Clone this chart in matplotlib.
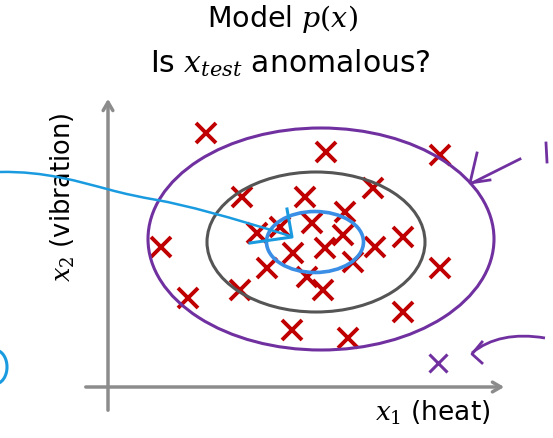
import numpy as np
import matplotlib.pyplot as plt
from matplotlib.patches import Ellipse, PathPatch
from matplotlib.path import Path

plt.rcParams['mathtext.fontset'] = 'dejavuserif'

# Normal examples (screen-like coordinates, y grows downward)
x1_normal = [206, 326, 440, 242, 305, 373, 345, 312, 257, 280, 343, 403, 161,
             293, 325, 375, 353, 267, 307, 323, 240, 440, 188, 403, 292, 348]
x2_normal = [133, 152, 155, 197, 197, 188, 212, 223, 233, 227, 235, 237, 247,
             253, 248, 247, 262, 268, 277, 290, 290, 268, 298, 312, 330, 338]

# The test example outside the outer contour
x1_test = [438]
x2_test = [363]

red = '#c00000'
purple = '#7030a0'
blue = '#1a9be0'
grey_axis = '#8c8c8c'

fig = plt.figure(figsize=(5.53, 4.38), dpi=100)
ax = fig.add_axes([0, 0, 1, 1])
ax.set_xlim(0, 553)
ax.set_ylim(438, 0)
ax.axis('off')

# Axes arrows
ax.annotate('', xy=(108, 96), xytext=(108, 413),
            arrowprops=dict(arrowstyle='->,head_length=0.6,head_width=0.35', color=grey_axis, lw=2.5))
ax.annotate('', xy=(507, 387), xytext=(83, 387),
            arrowprops=dict(arrowstyle='->,head_length=0.6,head_width=0.35', color=grey_axis, lw=2.5))

# Crosses
ax.plot(x1_normal, x2_normal, linestyle='none', marker='x', markersize=14,
        markeredgewidth=2.8, color=red, zorder=2)
ax.plot(x1_test, x2_test, linestyle='none', marker='x', markersize=13,
        markeredgewidth=2.2, color=purple, zorder=2)

# Density contours
ax.add_patch(Ellipse((321, 239), 346, 222, fill=False, ec=purple, lw=2.2, zorder=3))
ax.add_patch(Ellipse((316, 242), 218, 140, fill=False, ec='#555555', lw=2.2, zorder=3))
ax.add_patch(Ellipse((315, 242), 97, 61, fill=False, ec='#3a8ee6', lw=2.6, zorder=3))

# Blue pointer (smooth curve) with a hand-drawn head
pointer = Path([(0, 172), (45, 171), (80, 182), (107, 189),
                (125, 194), (140, 197), (157, 200),
                (185, 205), (230, 217), (290, 236)],
               [Path.MOVETO] + [Path.CURVE4] * 9)
ax.add_patch(PathPatch(pointer, fill=False, ec=blue, lw=1.8, zorder=4))
ax.plot([287, 292, 250], [209, 237, 243], color=blue, lw=2.2, zorder=4)
t = np.linspace(-np.pi / 2, np.pi / 2, 50)
ax.plot(-5 + 12 * np.cos(t), 367 + 17 * np.sin(t), color=blue, lw=2.2)

# Purple hand-drawn arrows
ax.plot([520, 472], [159, 183], color=purple, lw=2)
ax.plot([477, 470, 490], [153, 183, 180], color=purple, lw=2)
ax.plot([546, 547], [143, 162], color=purple, lw=2)
bottom = Path([(545, 338), (515, 333), (490, 338), (472, 353)],
              [Path.MOVETO, Path.CURVE4, Path.CURVE4, Path.CURVE4])
ax.add_patch(PathPatch(bottom, fill=False, ec=purple, lw=2))
ax.plot([482, 472, 482], [342, 354, 363], color=purple, lw=2)

# Text
ax.text(282, 27, r'Model $p(x)$', ha='center', va='baseline', fontsize=20.5)
ax.text(290, 72, r'Is $x_{test}$ anomalous?', ha='center', va='baseline', fontsize=21.5)
ax.text(433, 421, r'$x_1$ (heat)', ha='center', va='baseline', fontsize=19)
ax.text(63, 197, r'$x_2$ (vibration)', ha='center', va='center', fontsize=18.5, rotation=90)

fig.savefig('out.png', dpi=100)
